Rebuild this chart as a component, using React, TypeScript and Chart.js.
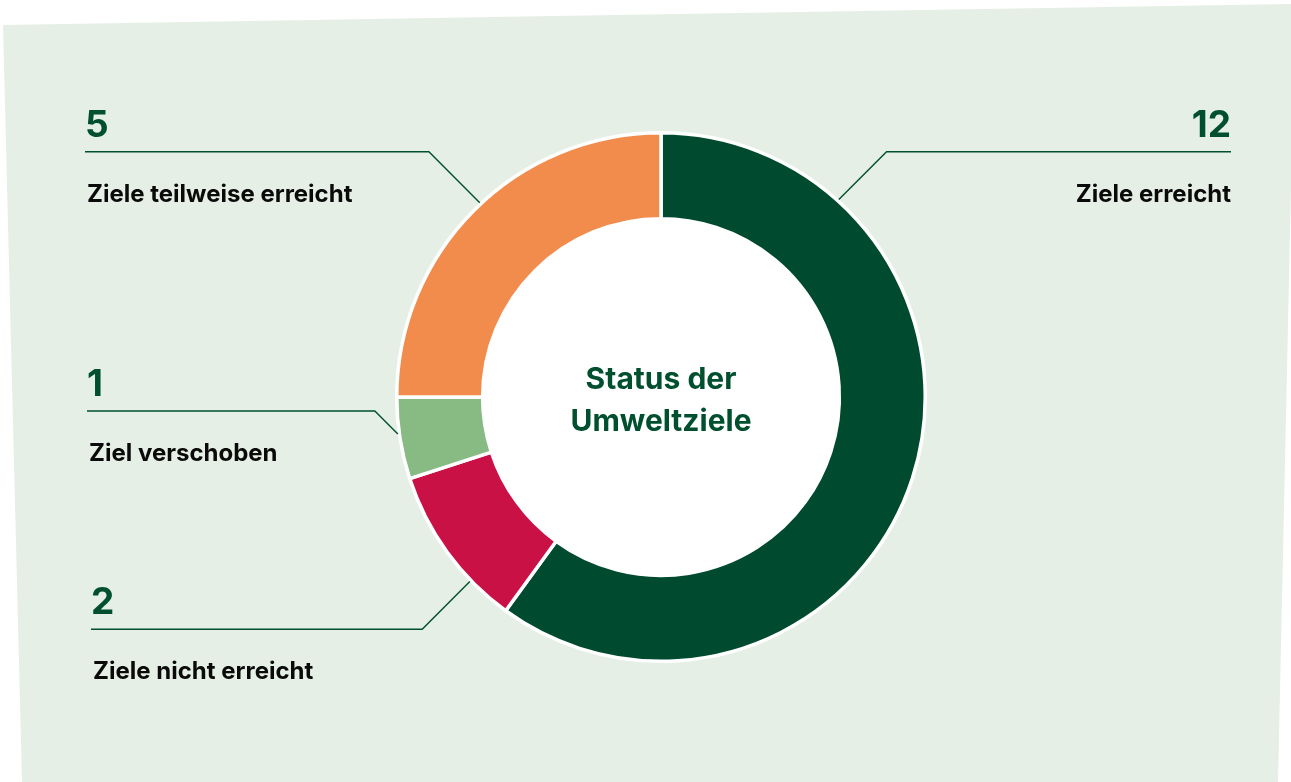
import React, { useEffect, useRef } from "react";
import { Chart, registerables } from "chart.js";

Chart.register(...registerables);

const categories = ["Ziele erreicht", "Ziele nicht erreicht", "Ziel verschoben", "Ziele teilweise erreicht"];
const values = [12, 2, 1, 5];
const colors = ["#004B30", "#CA1146", "#88BA83", "#F28C4C"];
const centerTitle = ["Status der", "Umweltziele"];

// annotation layout: anchor angle on ring (deg clockwise from top), line level (fraction of radius), side, label x
const calloutAngles = [42, 226, 262, 317];
const calloutLevels = [-0.928, 0.879, 0.053, -0.928];
const calloutSides = ["right", "left", "left", "left"];
const calloutX = [1231, 91, 87, 85];

const FONT = "Inter, 'Noto Sans', sans-serif";
const GREEN = "#00502F";

const bgPlugin = {
  id: "bgPoly",
  beforeDraw(chart: any) {
    const { ctx, width, height } = chart;
    ctx.save();
    ctx.fillStyle = "#E5EFE5";
    ctx.beginPath();
    ctx.moveTo(3, 25);
    ctx.lineTo(width + 4, 4);
    ctx.lineTo(width - 13, height);
    ctx.lineTo(22, height);
    ctx.closePath();
    ctx.fill();
    ctx.restore();
  },
  beforeDatasetsDraw(chart: any) {
    const meta = chart.getDatasetMeta(0);
    const arc = meta.data[0];
    if (!arc) return;
    const { x, y, innerRadius } = arc.getProps(["x", "y", "innerRadius"], true);
    const ctx = chart.ctx;
    ctx.save();
    ctx.fillStyle = "#FFFFFF";
    ctx.beginPath();
    ctx.arc(x, y, innerRadius + 1, 0, Math.PI * 2);
    ctx.fill();
    ctx.restore();
  },
  afterDatasetsDraw(chart: any) {
    const meta = chart.getDatasetMeta(0);
    const arc = meta.data[0];
    if (!arc) return;
    const { x: cx, y: cy, outerRadius } = arc.getProps(["x", "y", "outerRadius"], true);
    const R = outerRadius + 1.5;
    const ctx = chart.ctx;
    ctx.save();
    // center title
    ctx.fillStyle = GREEN;
    ctx.font = `bold 30px ${FONT}`;
    ctx.textAlign = "center";
    ctx.textBaseline = "alphabetic";
    ctx.fillText(centerTitle[0], cx, cy - 8);
    ctx.fillText(centerTitle[1], cx, cy + 34);

    const ds = chart.data.datasets[0].data;
    for (let i = 0; i < ds.length; i++) {
      const a = (calloutAngles[i] * Math.PI) / 180;
      const ax = cx + R * Math.sin(a);
      const ay = cy - R * Math.cos(a);
      const ly = cy + calloutLevels[i] * outerRadius;
      const dy = Math.abs(ly - ay);
      const right = calloutSides[i] === "right";
      const bx = right ? ax + dy : ax - dy;
      const tx = calloutX[i];
      ctx.strokeStyle = GREEN;
      ctx.lineWidth = 1.4;
      ctx.beginPath();
      ctx.moveTo(ax, ay);
      ctx.lineTo(bx, ly);
      ctx.lineTo(tx, ly);
      ctx.stroke();

      ctx.textAlign = right ? "right" : "left";
      ctx.fillStyle = GREEN;
      ctx.font = `bold 37px ${FONT}`;
      ctx.fillText(String(ds[i]), tx, ly - 15);
      ctx.fillStyle = "#0A0A0A";
      ctx.font = `bold 24px ${FONT}`;
      ctx.fillText(chart.data.labels[i], tx + (right ? 0 : 2), ly + 50);
    }
    ctx.restore();
  },
};

export default function App() {
  const ref = useRef<HTMLCanvasElement | null>(null);
  useEffect(() => {
    if (!ref.current) return;
    const chart = new Chart(ref.current, {
      type: "doughnut",
      data: {
        labels: categories,
        datasets: [
          {
            data: values,
            backgroundColor: colors,
            borderColor: "#FFFFFF",
            borderWidth: 3.5,
            hoverOffset: 0,
          },
        ],
      },
      options: {
        responsive: false,
        animation: false,
        cutout: "67.5%",
        layout: { padding: { left: 395, right: 364, top: 131, bottom: 119 } },
        plugins: {
          legend: { display: false },
          tooltip: { enabled: false },
        },
      },
      plugins: [bgPlugin],
    });
    return () => chart.destroy();
  }, []);
  return (
    <div style={{ position: "absolute", left: 0, top: 0, width: 1291, height: 782, background: "#fff" }}>
      <canvas ref={ref} width={1291} height={782} />
    </div>
  );
}
